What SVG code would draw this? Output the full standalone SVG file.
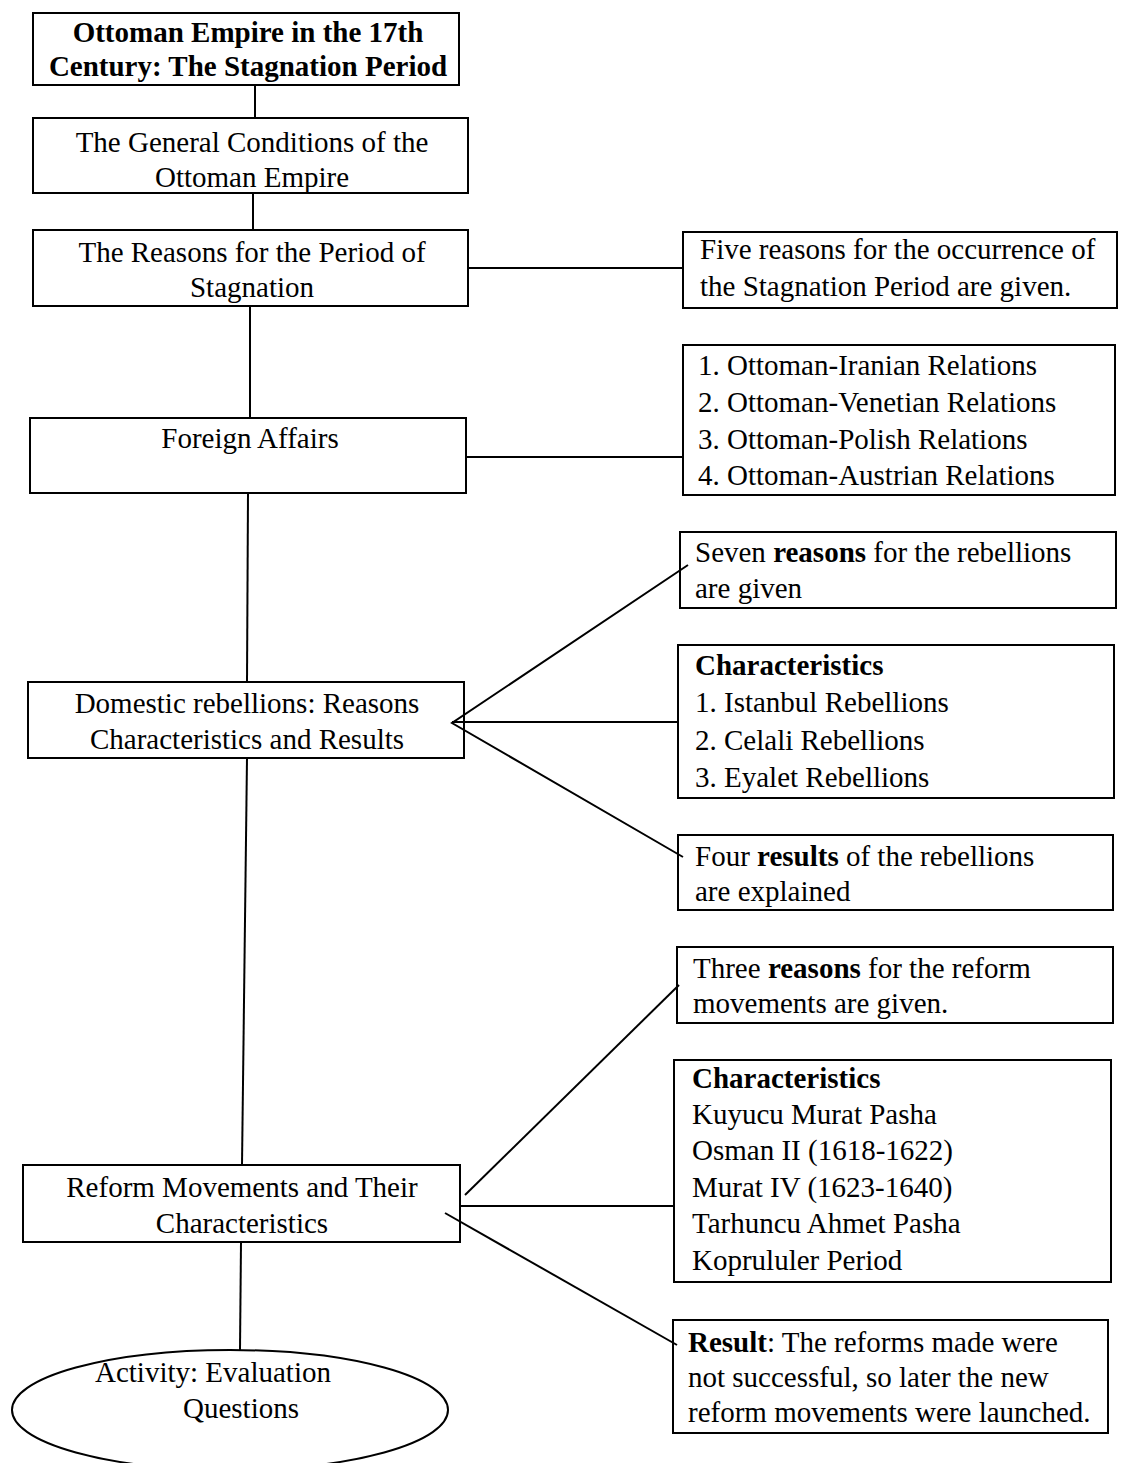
<svg xmlns="http://www.w3.org/2000/svg" width="1126" height="1463" viewBox="0 0 1126 1463">
<style>
.box{fill:#fff;stroke:#000;stroke-width:2}
.ln{fill:none;stroke:#000;stroke-width:2}
text{font-family:"Liberation Serif","Times New Roman",serif;font-size:29px;fill:#000}
.c{text-anchor:middle}
.b{font-weight:bold}
</style>
<g id="n-title">
<rect class="box" x="33" y="13" width="426" height="72"/>
<text class="c b" x="248" y="42">Ottoman Empire in the 17th</text>
<text class="c b" x="248" y="76">Century: The Stagnation Period</text>
</g>
<g id="n-general">
<rect class="box" x="33" y="118" width="435" height="75"/>
<text class="c" x="252" y="152">The General Conditions of the</text>
<text class="c" x="252" y="187">Ottoman Empire</text>
</g>
<g id="n-reasons">
<rect class="box" x="33" y="230" width="435" height="76"/>
<text class="c" x="252" y="262">The Reasons for the Period of</text>
<text class="c" x="252" y="297">Stagnation</text>
</g>
<g id="n-five">
<rect class="box" x="683" y="232" width="434" height="76"/>
<text x="700" y="259">Five reasons for the occurrence of</text>
<text x="700" y="296">the Stagnation Period are given.</text>
</g>
<g id="n-foreign">
<rect class="box" x="30" y="418" width="436" height="75"/>
<text class="c" x="250" y="448">Foreign Affairs</text>
</g>
<g id="n-relations">
<rect class="box" x="683" y="345" width="432" height="150"/>
<text x="698" y="375">1. Ottoman-Iranian Relations</text>
<text x="698" y="412">2. Ottoman-Venetian Relations</text>
<text x="698" y="449">3. Ottoman-Polish Relations</text>
<text x="698" y="485">4. Ottoman-Austrian Relations</text>
</g>
<g id="n-domestic">
<rect class="box" x="28" y="682" width="436" height="76"/>
<text class="c" x="247" y="713">Domestic rebellions: Reasons</text>
<text class="c" x="247" y="749">Characteristics and Results</text>
</g>
<g id="n-seven">
<rect class="box" x="680" y="532" width="436" height="76"/>
<text x="695" y="562">Seven <tspan class="b">reasons</tspan> for the rebellions</text>
<text x="695" y="598">are given</text>
</g>
<g id="n-char1">
<rect class="box" x="678" y="645" width="436" height="153"/>
<text class="b" x="695" y="675">Characteristics</text>
<text x="695" y="712">1. Istanbul Rebellions</text>
<text x="695" y="750">2. Celali Rebellions</text>
<text x="695" y="787">3. Eyalet Rebellions</text>
</g>
<g id="n-four">
<rect class="box" x="678" y="835" width="435" height="75"/>
<text x="695" y="866">Four <tspan class="b">results</tspan> of the rebellions</text>
<text x="695" y="901">are explained</text>
</g>
<g id="n-reform">
<rect class="box" x="23" y="1165" width="437" height="77"/>
<text class="c" x="242" y="1197">Reform Movements and Their</text>
<text class="c" x="242" y="1233">Characteristics</text>
</g>
<g id="n-three">
<rect class="box" x="677" y="947" width="436" height="76"/>
<text x="693" y="978">Three <tspan class="b">reasons</tspan> for the reform</text>
<text x="693" y="1013">movements are given.</text>
</g>
<g id="n-char2">
<rect class="box" x="674" y="1060" width="437" height="222"/>
<text class="b" x="692" y="1088">Characteristics</text>
<text x="692" y="1124">Kuyucu Murat Pasha</text>
<text x="692" y="1160">Osman II (1618-1622)</text>
<text x="692" y="1197">Murat IV (1623-1640)</text>
<text x="692" y="1233">Tarhuncu Ahmet Pasha</text>
<text x="692" y="1270">Koprululer Period</text>
</g>
<g id="n-result">
<rect class="box" x="673" y="1320" width="435" height="113"/>
<text x="688" y="1352"><tspan class="b">Result</tspan>: The reforms made were</text>
<text x="688" y="1387">not successful, so later the new</text>
<text x="688" y="1422">reform movements were launched.</text>
</g>
<g id="n-activity">
<ellipse class="box" cx="230" cy="1410" rx="218" ry="60"/>
<text class="c" x="213" y="1382">Activity: Evaluation</text>
<text class="c" x="241" y="1418">Questions</text>
</g>
<g id="connectors">
<line class="ln" x1="255" y1="85" x2="255" y2="118"/>
<line class="ln" x1="253" y1="193" x2="253" y2="230"/>
<line class="ln" x1="250" y1="306" x2="250" y2="418"/>
<line class="ln" x1="248" y1="493" x2="247" y2="682"/>
<line class="ln" x1="247" y1="758" x2="242" y2="1165"/>
<line class="ln" x1="241" y1="1242" x2="240" y2="1350"/>
<line class="ln" x1="468" y1="268" x2="683" y2="268"/>
<line class="ln" x1="466" y1="457" x2="683" y2="457"/>
<polyline class="ln" points="688,565 452,723 683,857"/>
<line class="ln" x1="452" y1="722" x2="678" y2="722"/>
<line class="ln" x1="465" y1="1195" x2="679" y2="985"/>
<line class="ln" x1="460" y1="1206" x2="674" y2="1206"/>
<line class="ln" x1="445" y1="1213" x2="677" y2="1345"/>
</g>
</svg>
